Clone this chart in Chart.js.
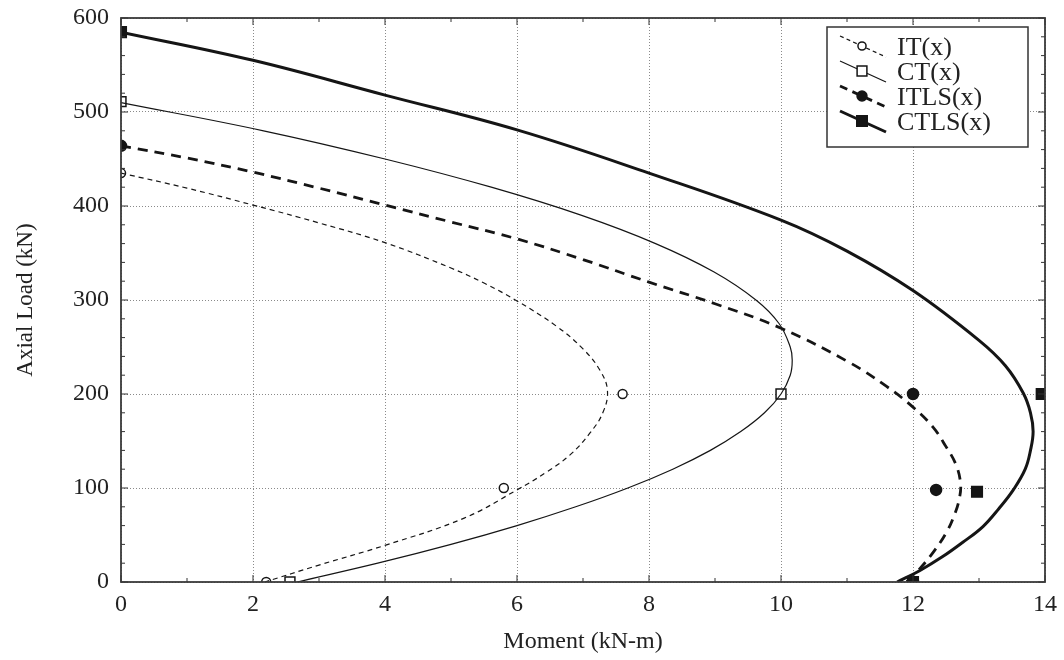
<!DOCTYPE html>
<html>
<head>
<meta charset="utf-8">
<script src="https://cdn.jsdelivr.net/npm/chart.js@4.4.1/dist/chart.umd.min.js"></script>
<style>
  html, body { margin: 0; background: #fff; }
</style>
</head>
<body>
<canvas id="grafico" width="1064" height="660"></canvas>
<script>
// nombres de las series
const nombres = ["IT(x)", "CT(x)", "ITLS(x)", "CTLS(x)"];

// curvas [momento kN-m, carga kN]
const curvaIT = [[0,435],[1,419],[2,401],[3,382],[4,361],[5,334],[5.5,318],[6,299],[6.6,272],[7,248],[7.25,226],
  [7.37,204],[7.3,180],[7.1,158],[6.8,135],[6.45,117],[6,98],[5.2,68],[4,39],[3,18],[2.18,0]];
const curvaCT = [[0,510],[2.16,480],[4,450],[5.61,420],[6.98,390],[8.1,360],[8.98,330],[9.62,300],[9.97,275],
  [10.14,250],[10.17,236],[10.14,220],[10,200],[9.75,180],[9.39,160],[8.93,140],[8.36,120],[7.68,100],
  [6.89,80],[6,60],[5,40],[3.89,20],[2.67,0]];
const curvaITLS = [[0,464],[1,451],[2,436],[3,419],[4,401],[5,383],[6,365],[7,343],[8,319],[9,296],[10,270],
  [11.05,233],[11.6,208],[12,186],[12.3,165],[12.5,144],[12.65,125],[12.72,105],[12.7,88],[12.62,70],
  [12.5,52],[12.3,31],[12.05,10],[11.9,0]];
const curvaCTLS = [[0,585],[2,555],[4,518],[6,481],[8,435],[10,385],[11,352],[12,310],[13,257],[13.4,230],
  [13.67,201],[13.78,180],[13.82,160],[13.78,140],[13.7,120],[13.52,98],[13.3,78],[13.06,59],[12.75,42],
  [12.45,27],[12.1,12],[11.76,0]];

// marcadores
const puntosIT = [[0,435],[7.6,200],[5.8,100],[2.2,0]];
const puntosCT = [[0,511],[10,200],[2.56,0]];
const puntosITLS = [[0,464],[12,200],[12.35,98],[12,0]];
const puntosCTLS = [[0,585],[13.95,200],[12.97,96],[12,0]];

// ejes
const ticksX = [0, 2, 4, 6, 8, 10, 12, 14];
const ticksY = [0, 100, 200, 300, 400, 500, 600];

const fuente = "'Liberation Serif', 'Times New Roman', serif";
const negro = "#151515";

const estilos = [
  { ancho: 1.2, guion: [5, 4], punto: "circle", radio: 4.5, relleno: "#fff" },
  { ancho: 1.2, guion: [], punto: "rect", radio: 7, relleno: "#fff" },
  { ancho: 2.8, guion: [10, 7], punto: "circle", radio: 5.5, relleno: negro },
  { ancho: 3, guion: [], punto: "rect", radio: 7.5, relleno: negro }
];

const curvas = [curvaIT, curvaCT, curvaITLS, curvaCTLS];
const puntos = [puntosIT, puntosCT, puntosITLS, puntosCTLS];

const aXY = arr => arr.map(p => ({ x: p[0], y: p[1] }));

const datasets = [];
curvas.forEach((c, i) => {
  datasets.push({
    label: nombres[i],
    data: aXY(c),
    showLine: true,
    borderColor: negro,
    borderWidth: estilos[i].ancho,
    borderDash: estilos[i].guion,
    tension: 0.4,
    pointRadius: 0
  });
});
puntos.forEach((p, i) => {
  datasets.push({
    label: nombres[i] + " puntos",
    data: aXY(p),
    showLine: false,
    pointStyle: estilos[i].punto,
    pointRadius: estilos[i].radio,
    pointBackgroundColor: estilos[i].relleno,
    pointBorderColor: negro,
    pointBorderWidth: 1.5
  });
});

// marco, marcas interiores y leyenda
const marcoPlugin = {
  id: "marco",
  afterDatasetsDraw(chart) {
    const { ctx, chartArea: a, scales } = chart;
    ctx.save();
    ctx.strokeStyle = "#333";
    ctx.lineWidth = 1;
    for (let v = 0; v <= 14; v += 1) {
      const px = scales.x.getPixelForValue(v);
      const len = v % 2 === 0 ? 7 : 4;
      ctx.beginPath();
      ctx.moveTo(px, a.bottom); ctx.lineTo(px, a.bottom - len);
      ctx.moveTo(px, a.top); ctx.lineTo(px, a.top + len);
      ctx.stroke();
    }
    for (let v = 0; v <= 600; v += 20) {
      const py = scales.y.getPixelForValue(v);
      const len = v % 100 === 0 ? 7 : 4;
      ctx.beginPath();
      ctx.moveTo(a.left, py); ctx.lineTo(a.left + len, py);
      ctx.moveTo(a.right, py); ctx.lineTo(a.right - len, py);
      ctx.stroke();
    }
    ctx.lineWidth = 1.8;
    ctx.strokeStyle = "#3a3a3a";
    ctx.strokeRect(a.left, a.top, a.right - a.left, a.bottom - a.top);
    ctx.restore();
  },
  afterDraw(chart) {
    const ctx = chart.ctx;
    const caja = { x: 827, y: 27, w: 201, h: 120 };
    ctx.save();
    ctx.fillStyle = "#fff";
    ctx.fillRect(caja.x, caja.y, caja.w, caja.h);
    ctx.strokeStyle = "#333";
    ctx.lineWidth = 1.5;
    ctx.strokeRect(caja.x, caja.y, caja.w, caja.h);
    nombres.forEach((n, i) => {
      const e = estilos[i];
      const cy = 47 + i * 25;
      ctx.strokeStyle = negro;
      ctx.lineWidth = e.ancho;
      ctx.setLineDash(e.guion.map(d => d * 0.8));
      ctx.beginPath();
      ctx.moveTo(840, cy - 11);
      ctx.lineTo(886, cy + 10);
      ctx.stroke();
      ctx.setLineDash([]);
      ctx.fillStyle = e.relleno;
      ctx.lineWidth = 1.5;
      ctx.beginPath();
      if (e.punto === "circle") {
        ctx.arc(862, cy - 1, e.radio * 0.9, 0, Math.PI * 2);
      } else {
        const s = e.radio * 0.7;
        ctx.rect(862 - s, cy - 1 - s, 2 * s, 2 * s);
      }
      ctx.fill();
      ctx.stroke();
      ctx.fillStyle = "#222";
      ctx.font = "26px " + fuente;
      ctx.textBaseline = "middle";
      ctx.fillText(n, 897, cy + 1);
    });
    ctx.restore();
  }
};

new Chart(document.getElementById("grafico").getContext("2d"), {
  type: "scatter",
  data: { datasets },
  options: {
    responsive: false,
    animation: false,
    devicePixelRatio: 1,
    layout: { padding: { top: 18, right: 19, left: 0, bottom: 0 } },
    plugins: { legend: { display: false }, tooltip: { enabled: false } },
    scales: {
      x: {
        type: "linear", min: 0, max: 14,
        afterBuildTicks: s => { s.ticks = ticksX.map(v => ({ value: v })); },
        afterFit: s => { s.height = 78; s.paddingLeft = 0; s.paddingRight = 0; },
        grid: { color: "#8a8a8a", lineWidth: 1, drawTicks: false },
        border: { display: false, dash: [1, 2] },
        ticks: { padding: 8, color: "#222", font: { family: fuente, size: 24 } },
        title: { display: true, text: "Moment (kN-m)", color: "#222", font: { family: fuente, size: 24 }, padding: { top: 2 } }
      },
      y: {
        type: "linear", min: 0, max: 600,
        afterBuildTicks: s => { s.ticks = ticksY.map(v => ({ value: v })); },
        afterFit: s => { s.width = 121; s.paddingTop = 0; s.paddingBottom = 0; },
        grid: { color: "#8a8a8a", lineWidth: 1, drawTicks: false },
        border: { display: false, dash: [1, 2] },
        ticks: { padding: 12, color: "#222", font: { family: fuente, size: 24 } },
        title: { display: true, text: "Axial Load (kN)", color: "#222", font: { family: fuente, size: 23 }, padding: { top: 12, bottom: 0 } }
      }
    }
  },
  plugins: [marcoPlugin]
});
</script>
</body>
</html>
